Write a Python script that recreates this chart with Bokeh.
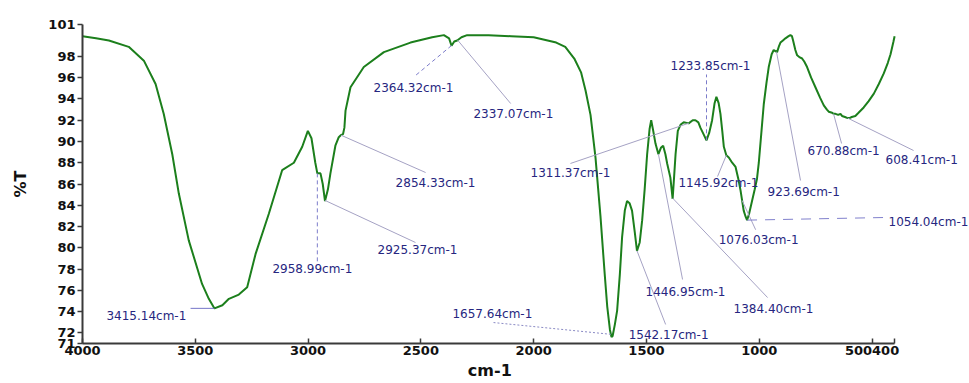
import numpy as np
from bokeh.plotting import figure
from bokeh.models import Range1d, FixedTicker, LabelSet, ColumnDataSource
from bokeh.core.properties import value
from bokeh.embed import file_html
from bokeh.resources import INLINE

# ---------------- data ----------------
wavenumber = [4000, 3940, 3883, 3795, 3728, 3676, 3640, 3602, 3573, 3529, 3470, 3440,
              3415, 3380, 3351, 3307, 3270, 3233, 3174, 3115, 3063, 3026, 3001, 2985,
              2968, 2959, 2945, 2935, 2925, 2912, 2901, 2879, 2864, 2854, 2845, 2839,
              2834, 2812, 2753, 2664, 2546, 2450, 2398, 2375, 2364, 2352, 2339, 2320,
              2295, 2200, 2100, 2000, 1900, 1860, 1820, 1790, 1770, 1748, 1726, 1704,
              1685, 1674, 1662, 1655, 1650, 1640, 1630, 1618, 1608, 1596, 1586, 1575,
              1564, 1552, 1542, 1530, 1519, 1508, 1497, 1486, 1479, 1470, 1460, 1447,
              1436, 1426, 1416, 1408, 1394, 1384, 1378, 1371, 1361, 1348, 1335, 1313,
              1295, 1283, 1270, 1261, 1245, 1234, 1222, 1209, 1198, 1190, 1180, 1172,
              1164, 1157, 1146, 1135, 1120, 1105, 1093, 1083, 1069, 1060, 1054, 1045,
              1032, 1020, 1010, 1002, 990, 980, 968, 958, 945, 936, 928, 921, 912, 906,
              895, 884, 870, 862, 855, 850, 840, 832, 820, 810, 800, 788, 770, 751, 730,
              714, 700, 692, 677, 670, 662, 650, 640, 633, 620, 608, 600, 590, 574, 560,
              537, 515, 492, 470, 448, 430, 418, 405, 400]
transmittance = [99.9, 99.7, 99.5, 98.9, 97.6, 95.4, 92.6, 88.8, 85.1, 80.7, 76.6, 75.2,
                 74.3, 74.6, 75.2, 75.6, 76.3, 79.4, 83.2, 87.3, 88.0, 89.5, 91.0, 90.3,
                 88.0, 87.0, 87.0, 86.0, 84.4, 85.5, 87.0, 89.6, 90.4, 90.6, 90.7, 91.3,
                 92.9, 95.1, 97.0, 98.4, 99.3, 99.8, 100.0, 99.7, 99.0, 99.4, 99.5, 99.8,
                 100.0, 100.0, 99.9, 99.8, 99.3, 98.9, 97.8, 96.5, 94.8, 92.5, 88.5, 83.0,
                 77.5, 74.5, 72.3, 71.6, 71.7, 72.8, 74.1, 77.5, 81.0, 83.5, 84.4, 84.2,
                 83.5, 81.5, 79.7, 80.5, 82.6, 85.5, 88.8, 91.2, 92.0, 91.0, 89.8, 88.8,
                 89.4, 89.6, 88.8, 87.9, 86.6, 84.6, 86.5, 88.8, 91.0, 91.6, 91.8, 91.7,
                 92.0, 92.0, 91.8, 91.3, 90.6, 90.1, 90.8, 92.0, 93.6, 94.2, 93.6, 92.6,
                 91.0, 89.5, 88.7, 88.5, 88.0, 87.6, 86.5, 85.4, 83.5, 82.9, 82.6, 83.2,
                 84.4, 85.5, 86.5, 88.0, 91.0, 93.5, 95.5, 97.0, 98.2, 98.6, 98.5, 98.4, 99.0, 99.3,
                 99.5, 99.7, 99.9, 100.0, 99.9, 99.5, 98.6, 98.1, 97.9, 97.8, 97.5, 97.0, 96.0, 95.1, 94.1,
                 93.4, 93.0, 92.8, 92.7, 92.6, 92.6, 92.5, 92.6, 92.4, 92.3, 92.2, 92.2, 92.3, 92.4, 92.7,
                 93.2, 93.8, 94.5, 95.4, 96.4, 97.4, 98.2, 99.4, 99.9]

peak_labels = ["3415.14cm-1", "2958.99cm-1", "2925.37cm-1", "2854.33cm-1", "2364.32cm-1",
               "2337.07cm-1", "1311.37cm-1", "1657.64cm-1", "1542.17cm-1", "1446.95cm-1",
               "1384.40cm-1", "1233.85cm-1", "1145.92cm-1", "1076.03cm-1", "1054.04cm-1",
               "923.69cm-1", "670.88cm-1", "608.41cm-1"]
peak_wn = [3415.14, 2958.99, 2925.37, 2854.33, 2364.32, 2337.07, 1311.37, 1657.64, 1542.17,
           1446.95, 1384.40, 1233.85, 1145.92, 1076.03, 1054.04, 923.69, 670.88, 608.41]

x_ticks = [4000, 3500, 3000, 2500, 2000, 1500, 1000, 500, 400]
x_tick_labels = ["4000", "3500", "3000", "2500", "2000", "1500", "1000", "500", "400"]
y_ticks = [71, 72, 74, 76, 78, 80, 82, 84, 86, 88, 90, 92, 94, 96, 98, 101]

# ---------------- annotation layout (text and leader placement) ----------------
text_x = [3894, 3158, 2692, 2612, 2710, 2267, 2014, 2360, 1579, 1504, 1114, 1393, 1358,
          1180, 427, 963, 786, 440]
text_y = [73.63, 78.05, 79.84, 86.14, 95.07, 92.54, 87.0, 73.82, 71.84, 75.89, 74.20,
          97.14, 86.05, 80.69, 82.38, 85.29, 89.06, 88.30]
lead_x = [3521, None, 2524, 2479, 2524, 2102, 1837, 2178, 1415, 1340, 963, None, 1185,
          1016, 440, 817, 635, 316]
lead_y = [None, 78.62, 80.50, 87.08, 96.20, 93.57, 87.93, 72.97, 72.79, 77.02, 75.32,
          96.30, 86.70, 81.70, 82.85, 86.33, 89.81, 89.15]
lead_style = ["blue", "dash", "grey", "grey", "dash", "grey", "grey", "dot", "grey", "grey",
              "grey", "dash", "grey", "grey", "longdash", "grey", "grey", "grey"]

# ---------------- figure ----------------
p = figure(width=969, height=383, x_range=Range1d(4000, 68), y_range=Range1d(71, 101),
           output_backend="svg", toolbar_location=None,
           min_border_left=82, min_border_right=0, min_border_top=24, min_border_bottom=40)
p.background_fill_color = "white"
p.border_fill_color = "white"
p.outline_line_color = None
p.grid.visible = False

wn = np.array(wavenumber, dtype=float)
tr = np.array(transmittance, dtype=float)
p.line(wn, tr, line_color="#1c7f1c", line_width=2)

# leader lines: start at the curve value for each labelled peak
anchor_y = np.interp(peak_wn, wn[::-1], tr[::-1])
styles = {
    "grey": dict(line_color="#a5a2c4", line_dash="solid"),
    "blue": dict(line_color="#7474c8", line_dash="solid"),
    "dash": dict(line_color="#7c7cca", line_dash="4 3"),
    "longdash": dict(line_color="#8080cc", line_dash="10 8"),
    "dot": dict(line_color="#8a8ac4", line_dash="2 2"),
}
for key, st in styles.items():
    x0, y0, x1, y1 = [], [], [], []
    for i, s in enumerate(lead_style):
        if s != key:
            continue
        ax, ay = peak_wn[i], anchor_y[i]
        ex = lead_x[i] if lead_x[i] is not None else ax
        ey = lead_y[i] if lead_y[i] is not None else ay
        x0.append(ax); y0.append(ay); x1.append(ex); y1.append(ey)
    if x0:
        p.segment(x0=x0, y0=y0, x1=x1, y1=y1, line_width=1, **st)

src = ColumnDataSource(dict(x=text_x, y=text_y, text=peak_labels))
p.add_layout(LabelSet(x="x", y="y", text="text", source=src, text_font=value("DejaVu Sans"),
                      text_font_size="12px", text_color="#262680", text_align="left",
                      text_baseline="middle"))

# axes
p.xaxis.ticker = FixedTicker(ticks=x_ticks)
overrides = {t: l for t, l in zip(x_ticks, x_tick_labels)}
# the 500 and 400 labels run together on the original axis
overrides[500] = overrides[500] + overrides[400]
overrides[400] = ""
p.xaxis.major_label_overrides = overrides
p.xaxis.bounds = (400, 4000)
p.xaxis.major_tick_in = 5
p.xaxis.major_tick_out = 0
p.xaxis.major_label_standoff = 2
# centred under the 4000-400 span (frame is wider than the axis), padded with no-break spaces
p.xaxis.axis_label = "cm-1" + "\u00a0" * 13
p.xaxis.axis_label_standoff = 3

p.yaxis.ticker = FixedTicker(ticks=y_ticks)
p.yaxis.major_tick_in = 0
p.yaxis.major_tick_out = 5
p.yaxis.major_label_standoff = 2
p.yaxis.axis_label = "%T"
p.yaxis.axis_label_standoff = 15

for ax in (p.xaxis, p.yaxis):
    ax.axis_line_width = 2
    ax.axis_line_color = "#3a3a3a"
    ax.major_tick_line_color = "#3a3a3a"
    ax.major_tick_line_width = 1.5
    ax.minor_tick_line_color = None
    ax.major_label_text_font = "DejaVu Sans"
    ax.major_label_text_font_style = "bold"
    ax.major_label_text_font_size = "13px"
    ax.major_label_text_color = "#111111"
    ax.axis_label_text_font = "DejaVu Sans"
    ax.axis_label_text_font_style = "bold"
    ax.axis_label_text_font_size = "16px"
    ax.axis_label_text_color = "#111111"

open("out.html", "w").write(file_html(p, INLINE))
